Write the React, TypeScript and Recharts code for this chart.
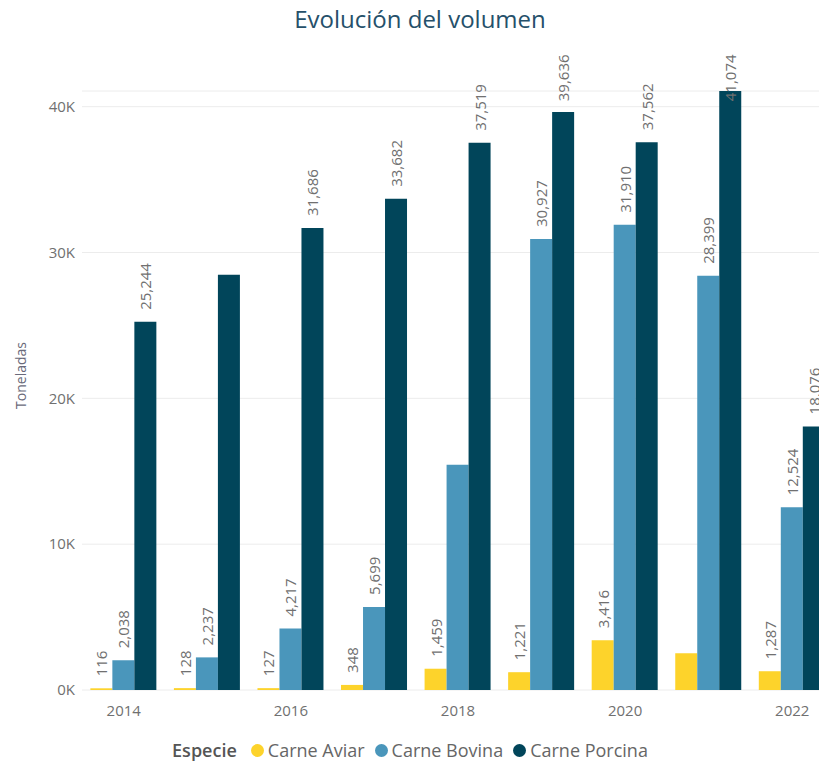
import React from 'react';
import { BarChart, Bar, XAxis, YAxis, CartesianGrid, Legend, LabelList, Label } from 'recharts';

const YEARS = ['2014', '2015', '2016', '2017', '2018', '2019', '2020', '2021', '2022'];
const AVIAR = [116, 128, 127, 348, 1459, 1221, 3416, 2520, 1287];
const BOVINA = [2038, 2237, 4217, 5699, 15450, 30927, 31910, 28399, 12524];
const PORCINA = [25244, 28470, 31686, 33682, 37519, 39636, 37562, 41074, 18076];
const Y_TICKS = [0, 10000, 20000, 30000, 40000];

// labels Power BI dropped because they collided
const HIDE_AVIAR = ['2021'];
const HIDE_BOVINA = ['2018'];
const HIDE_PORCINA = ['2015'];

const SERIES = [
  { key: 'aviar', name: 'Carne Aviar', color: '#FDD32B', hide: HIDE_AVIAR },
  { key: 'bovina', name: 'Carne Bovina', color: '#4A96BB', hide: HIDE_BOVINA },
  { key: 'porcina', name: 'Carne Porcina', color: '#01455A', hide: HIDE_PORCINA },
];

const data = YEARS.map((year, i) => ({
  year,
  aviar: AVIAR[i],
  bovina: BOVINA[i],
  porcina: PORCINA[i],
}));

const FONT = '"Open Sans", "Segoe UI", sans-serif';
const LABEL_TOP = 52;

const makeLabel = (hide: string[]) => (props: any) => {
  const { x, y, width, value, index } = props;
  if (hide.includes(YEARS[index])) return null;
  const text = Number(value).toLocaleString('en-US');
  const est = text.length * 8.2;
  const cx = x + width / 2;
  const y0 = Math.max(y - 12, LABEL_TOP + est);
  return (
    <text
      x={cx}
      y={y0}
      transform={`rotate(-90, ${cx}, ${y0})`}
      textAnchor="start"
      dominantBaseline="central"
      fontSize={15}
      fontFamily={FONT}
      fill="#707070"
    >
      {text}
    </text>
  );
};

const renderLegend = () => (
  <div
    style={{
      display: 'flex', justifyContent: 'center', alignItems: 'center',
      height: 24, fontFamily: FONT, fontSize: 18,
    }}
  >
    <span style={{ color: '#555', fontWeight: 600, marginRight: 14 }}>Especie</span>
    {SERIES.map((s) => (
      <span key={s.key} style={{ display: 'flex', alignItems: 'center', marginRight: 10 }}>
        <span style={{ width: 13, height: 13, borderRadius: 7, background: s.color, marginRight: 4 }} />
        <span style={{ color: '#666' }}>{s.name}</span>
      </span>
    ))}
  </div>
);

export default function App() {
  return (
    <div style={{ position: 'fixed', left: 0, top: 0, width: 819, height: 763, overflow: 'hidden', background: '#fff' }}>
      <div
        style={{
          position: 'absolute', top: 2, left: 0, width: 840, textAlign: 'center',
          fontFamily: FONT, fontSize: 24, color: '#25506A',
        }}
      >
        Evolución del volumen
      </div>
      <BarChart
        width={840}
        height={763}
        data={data}
        margin={{ top: 91, right: 6, left: 0, bottom: 19 }}
        barCategoryGap="10%"
        barGap={0}
      >
        <CartesianGrid vertical={false} stroke="#ececec" />
        <XAxis
          dataKey="year"
          interval={1}
          axisLine={false}
          tickLine={false}
          tickSize={0}
          tickMargin={15}
          height={30}
          tick={{ fill: '#707070', fontSize: 15, fontFamily: FONT }}
        />
        <YAxis
          width={82}
          domain={[0, 'dataMax']}
          ticks={Y_TICKS}
          axisLine={false}
          tickLine={false}
          tickSize={0}
          tickMargin={7}
          tickFormatter={(v: number) => `${v / 1000}K`}
          tick={{ fill: '#707070', fontSize: 15, fontFamily: FONT }}
        >
          <Label
            content={({ viewBox }: any) => {
              const cy = viewBox.y + viewBox.height / 2 - 15;
              return (
                <text
                  x={20}
                  y={cy}
                  transform={`rotate(-90, 20, ${cy})`}
                  textAnchor="middle"
                  dominantBaseline="central"
                  fontSize={14}
                  fontFamily={FONT}
                  fill="#6a6a7a"
                >
                  Toneladas
                </text>
              );
            }}
          />
        </YAxis>
        <Legend content={renderLegend} wrapperStyle={{ position: 'absolute', top: 738, left: 0, width: 830 }} />
        {SERIES.map((s) => (
          <Bar key={s.key} dataKey={s.key} name={s.name} fill={s.color} isAnimationActive={false}>
            <LabelList dataKey={s.key} content={makeLabel(s.hide)} />
          </Bar>
        ))}
      </BarChart>
    </div>
  );
}
